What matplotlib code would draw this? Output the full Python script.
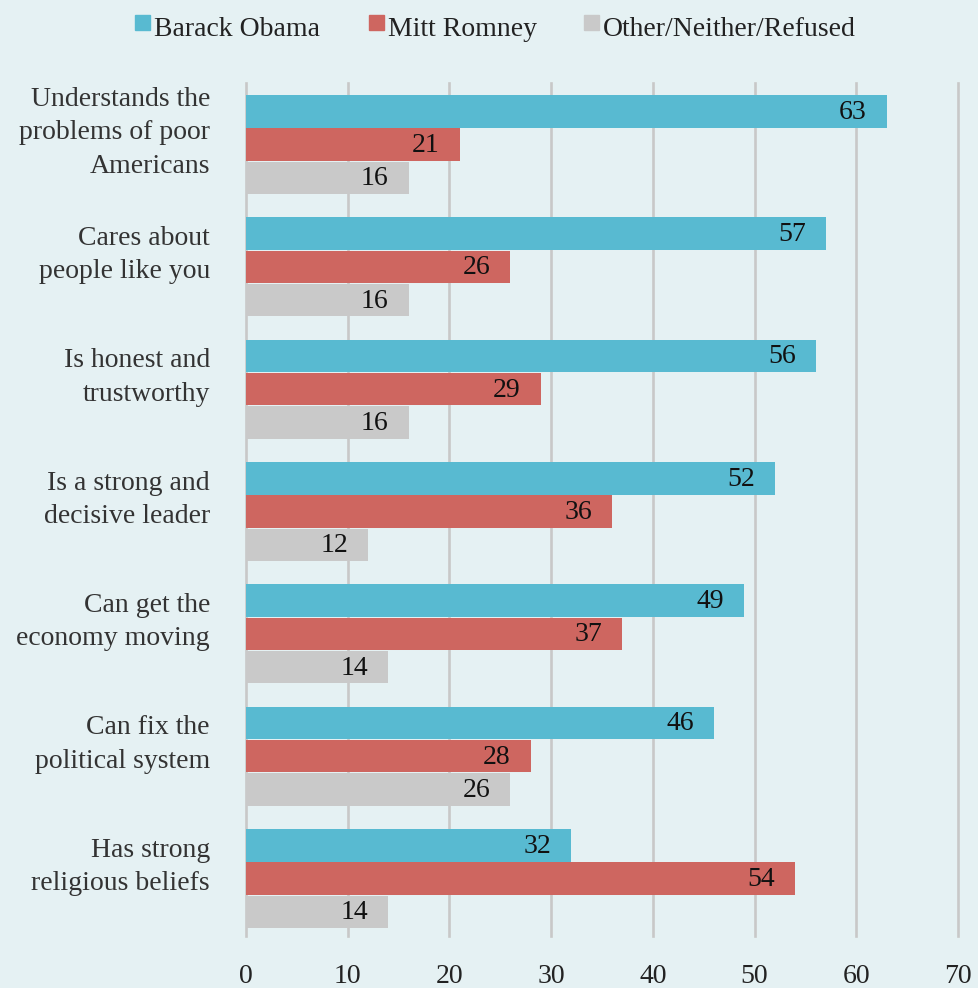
import matplotlib
matplotlib.use("Agg")
import matplotlib.pyplot as plt
from matplotlib.patches import Rectangle
import numpy as np

plt.rcParams['font.family'] = ['Liberation Serif', 'DejaVu Serif']

categories = [
    "Understands the\nproblems of poor\nAmericans",
    "Cares about\npeople like you",
    "Is honest and\ntrustworthy",
    "Is a strong and\ndecisive leader",
    "Can get the\neconomy moving",
    "Can fix the\npolitical system",
    "Has strong\nreligious beliefs",
]
series_names = ["Barack Obama", "Mitt Romney", "Other/Neither/Refused"]
obama = [63, 57, 56, 52, 49, 46, 32]
romney = [21, 26, 29, 36, 37, 28, 54]
other = [16, 16, 16, 12, 14, 26, 14]
x_ticks = [0, 10, 20, 30, 40, 50, 60, 70]

colors = ["#58BAD1", "#CE6660", "#C9C9C9"]
bg = "#E5F1F3"
W, H = 979, 988
FS = 20

fig = plt.figure(figsize=(W / 100, H / 100), dpi=100, facecolor=bg)
ax = fig.add_axes([246 / W, 1 - 936 / H, (958 - 246) / W, (936 - 83) / H])
ax.set_facecolor(bg)

y = np.arange(len(categories))
bh = 0.272
for k, (vals, col) in enumerate(zip([obama, romney, other], colors)):
    pos = y + (k - 1) * bh
    ax.barh(pos, vals, height=bh - 0.006, color=col, zorder=2)
    for p, v in zip(pos, vals):
        ax.annotate(str(v), xy=(v, p), xytext=(-20, -1), textcoords="offset pixels",
                    ha="right", va="center", fontsize=FS, color="#111111", zorder=3)

ax.set_xlim(0, 70)
ax.set_ylim(len(categories) - 1 + 0.47, -0.503)
ax.set_xticks(x_ticks)
ax.set_xticklabels([str(t) for t in x_ticks], fontsize=FS, color="#222222")
ax.tick_params(axis="x", length=0, pad=20)
ax.set_yticks([])
for s in ax.spines.values():
    s.set_visible(False)

# vertical gridlines, unclipped so the outer ones keep full width
for t in x_ticks:
    ax.axvline(t, color="#C8C8C8", linewidth=1.9, zorder=0, clip_on=False)

# category labels, centred just above the Obama/Romney boundary of each group
for i, cat in enumerate(categories):
    ax.annotate(cat, xy=(0, i - bh / 2), xytext=(-36, -5), textcoords="offset pixels",
                ha="right", va="center", fontsize=FS, color="#333333",
                linespacing=1.45, multialignment="right")

# legend row
legend_x = [135, 369, 584]
for lx, name, col in zip(legend_x, series_names, colors):
    fig.add_artist(Rectangle((lx / W, 1 - 30 / H), 15 / W, 15 / H,
                             transform=fig.transFigure, color=col))
    fig.text((lx + 19) / W, 1 - 29 / H, name, ha="left", va="center",
             fontsize=FS, color="#222222")

fig.savefig("out.png", dpi=100, facecolor=bg)
